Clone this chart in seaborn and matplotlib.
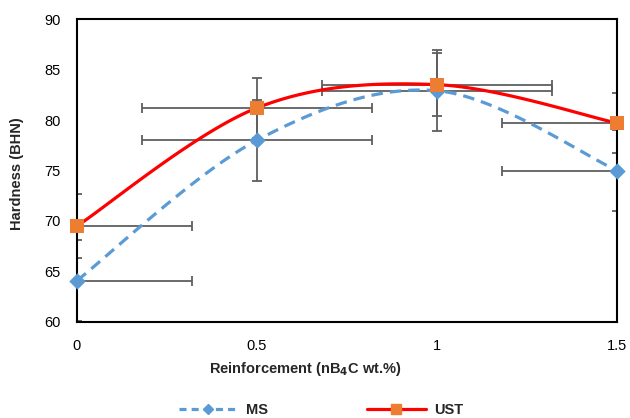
import numpy as np
import pandas as pd
import matplotlib
matplotlib.use("Agg")
import matplotlib.pyplot as plt
import seaborn as sns
from matplotlib.lines import Line2D

# ---- data ----
x_vals = [0.0, 0.5, 1.0, 1.5]
ms_vals = [64.1, 78.0, 82.9, 75.0]
ust_vals = [69.5, 81.2, 83.5, 79.7]
ms_yerr = [4.0, 4.0, 4.0, 4.0]
ust_yerr = [3.2, 3.0, 3.1, 3.0]
x_err = [0.32, 0.32, 0.32, 0.32]
series_names = ["MS", "UST"]
x_ticks = [0, 0.5, 1, 1.5]
x_tick_labels = ["0", "0.5", "1", "1.5"]
y_ticks = [60, 65, 70, 75, 80, 85, 90]

sns.set_theme(style="white")
plt.rcParams['font.family'] = ['Liberation Sans', 'DejaVu Sans']


def smooth(x, y, n=40):
    """Excel-like smoothed line (Catmull-Rom Bezier) through the data points."""
    P = np.column_stack([x, y]).astype(float)
    ext = np.vstack([P[0], P, P[-1]])
    t = np.linspace(0, 1, n)[:, None]
    out = []
    for i in range(len(P) - 1):
        p0, p1, p2, p3 = ext[i], ext[i + 1], ext[i + 2], ext[i + 3]
        c1 = p1 + (p2 - p0) / 6
        c2 = p2 - (p3 - p1) / 6
        b = (1 - t) ** 3 * p1 + 3 * (1 - t) ** 2 * t * c1 + 3 * (1 - t) * t ** 2 * c2 + t ** 3 * p2
        out.append(b if i == 0 else b[1:])
    return np.vstack(out)


blue = "#5B9BD5"
red = "#FF0000"
orange = "#ED7D31"
err_c = "#5F5F5F"

fig = plt.figure(figsize=(6.3, 4.18), dpi=100)
ax = fig.add_axes([0.1222, 0.2297, 0.8571, 0.7248])

# error bars
ax.errorbar(x_vals, ms_vals, yerr=ms_yerr, xerr=x_err, fmt='none',
            ecolor=err_c, elinewidth=1.3, capsize=3.8, capthick=1.3, zorder=1)
ax.errorbar(x_vals, ust_vals, yerr=ust_yerr, xerr=x_err, fmt='none',
            ecolor=err_c, elinewidth=1.3, capsize=3.8, capthick=1.3, zorder=1)

ms_s = smooth(x_vals, ms_vals)
ust_s = smooth(x_vals, ust_vals)
sns.lineplot(x=ms_s[:, 0], y=ms_s[:, 1], ax=ax, color=blue, lw=2.3,
             sort=False, estimator=None, zorder=2)
ax.lines[-1].set_dashes([3.6, 2.2])
sns.lineplot(x=ust_s[:, 0], y=ust_s[:, 1], ax=ax, color=red, lw=2.3,
             sort=False, estimator=None, zorder=3)

sns.scatterplot(x=x_vals, y=ms_vals, ax=ax, marker='D', s=70, color=blue,
                edgecolor=blue, linewidth=0, zorder=4, clip_on=False)
sns.scatterplot(x=x_vals, y=ust_vals, ax=ax, marker='s', s=105, color=orange,
                edgecolor=orange, linewidth=0, zorder=5, clip_on=False)

ax.set_xlim(0, 1.5)
ax.set_ylim(60, 90)
ax.set_xticks(x_ticks)
ax.set_xticklabels(x_tick_labels)
ax.set_yticks(y_ticks)
ax.tick_params(axis='both', length=0, labelsize=10.5, colors='black')
ax.tick_params(axis='y', pad=12)
ax.tick_params(axis='x', pad=12)
for sp in ax.spines.values():
    sp.set_visible(True)
    sp.set_color('black')
    sp.set_linewidth(1.5)

ax.set_xlabel("Reinforcement (nB$_\\mathbf{4}$C wt.%)", fontsize=10.5,
              fontweight='bold')
ax.xaxis.set_label_coords(0.422, -0.125)
ax.set_ylabel("Hardness (BHN)", fontsize=10.5, fontweight='bold')
ax.yaxis.set_label_coords(-0.098, 0.49)

handles = [
    Line2D([], [], color=blue, lw=2.3, dashes=[2.2, 1.6], marker='D',
           markersize=5.5, markerfacecolor=blue, markeredgecolor=blue),
    Line2D([], [], color=red, lw=2.3, marker='s', markersize=7.5,
           markerfacecolor=orange, markeredgecolor=orange),
]
leg = fig.legend(handles, series_names, loc='lower center', ncol=2,
                 bbox_to_anchor=(0.51, -0.03), frameon=False,
                 prop={'weight': 'bold', 'size': 10.5}, handlelength=4,
                 columnspacing=6.8, handletextpad=0.6)

fig.savefig("out.png", dpi=100)
